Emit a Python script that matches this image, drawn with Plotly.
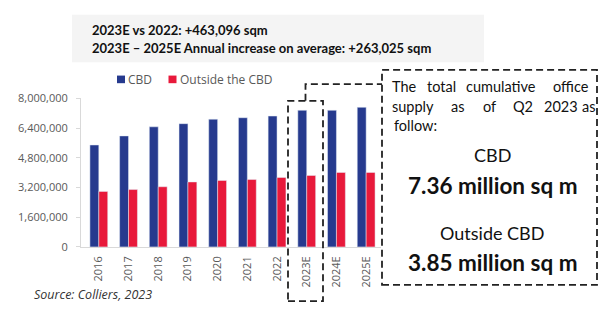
import plotly.graph_objects as go

years = ["2016", "2017", "2018", "2019", "2020", "2021", "2022", "2023E", "2024E", "2025E"]
cbd = [5490000, 5980000, 6470000, 6640000, 6880000, 6960000, 7050000, 7360000, 7360000, 7520000]
outside = [2990000, 3090000, 3240000, 3500000, 3580000, 3630000, 3740000, 3850000, 4010000, 4010000]
y_ticks = [0, 1600000, 3200000, 4800000, 6400000, 8000000]
y_tick_labels = ["0", "1,600,000", "3,200,000", "4,800,000", "6,400,000", "8,000,000"]
series_names = ["CBD", "Outside the CBD"]

W, H = 598, 311
def px(x):
    return x / W
def py(y):
    return 1 - y / H

BLUE = "#263a8e"
RED = "#e8193b"
GRAY_TXT = "#595959"

fig = go.Figure()
fig.add_trace(go.Bar(x=years, y=cbd, name=series_names[0], marker_color=BLUE, showlegend=False))
fig.add_trace(go.Bar(x=years, y=outside, name=series_names[1], marker_color=RED, showlegend=False))

fig.update_layout(
    width=W, height=H,
    margin=dict(l=0, r=0, t=0, b=0, pad=0),
    paper_bgcolor="white", plot_bgcolor="white",
    barmode="group", bargap=0.4, bargroupgap=0,
    font=dict(family="Open Sans", color=GRAY_TXT),
    xaxis=dict(domain=[px(81), px(381)], range=[-0.6, 9.5], type="category",
               tickangle=-90, tickfont=dict(size=11, color=GRAY_TXT),
               showline=True, linecolor="#d9d9d9", linewidth=1, ticks="",
               ticklabelstandoff=4,
               showgrid=False, anchor="y"),
    yaxis=dict(domain=[py(251), py(95)], range=[0, 8000000],
               tickvals=y_ticks, ticktext=y_tick_labels,
               tickfont=dict(size=11, color=GRAY_TXT),
               showline=True, linecolor="#d9d9d9", linewidth=1,
               ticks="outside", ticklen=4, tickcolor="#d9d9d9",
               ticklabelstandoff=6,
               showgrid=False, zeroline=False),
)

shapes = []
# header box
shapes.append(dict(type="rect", xref="paper", yref="paper", x0=px(72), x1=px(484), y0=py(57), y1=py(7),
                   fillcolor="#f4f4f4", line=dict(width=0), layer="below"))
# legend swatches
shapes.append(dict(type="rect", xref="paper", yref="paper", x0=px(117), x1=px(125), y0=py(79), y1=py(71),
                   fillcolor=BLUE, line=dict(width=0)))
shapes.append(dict(type="rect", xref="paper", yref="paper", x0=px(168.5), x1=px(176.5), y0=py(79), y1=py(71),
                   fillcolor=RED, line=dict(width=0)))
dash = dict(color="#222222", width=1.8, dash="7px,4px")
# small dashed box around 2023E
shapes.append(dict(type="rect", xref="paper", yref="paper", x0=px(288), x1=px(323), y0=py(308), y1=py(97.5),
                   line=dash))
# connector
shapes.append(dict(type="path", xref="paper", yref="paper",
                   path=f"M {px(305.5)},{py(97.5)} L {px(305.5)},{py(80)} L {px(382)},{py(80)}",
                   line=dash))
# big dashed box
shapes.append(dict(type="rect", xref="paper", yref="paper", x0=px(382), x1=px(597), y0=py(291), y1=py(65),
                   line=dash))
fig.update_layout(shapes=shapes)

def A(text, x, y, font, xanchor="left"):
    return dict(text=text, x=px(x), y=py(y), xref="paper", yref="paper", xanchor=xanchor,
                yanchor="middle", showarrow=False, font=font)

hdr_font = dict(family="Lato", size=13, color="#111111")
leg_font = dict(family="Open Sans", size=12, color=GRAY_TXT)
ann = [
    A("<b>2023E vs 2022: +463,096 sqm</b>", 90, 23, hdr_font),
    A("<b>2023E – 2025E Annual increase on average: +263,025 sqm</b>", 90, 42, hdr_font),
    A("<i>Source: Colliers, 2023</i>", 32, 301.5, dict(family="Open Sans", size=12.5, color="#333333")),
    A(series_names[0], 126, 75, leg_font),
    A(series_names[1], 177.5, 75, leg_font),
]

box_font = dict(family="Lato", size=14.5, color="#111111")
words = [("The", 404.5, 83), ("total", 441.5, 83), ("cumulative", 501, 83), ("office", 571, 83),
         ("supply", 413, 104), ("as", 457.5, 104), ("of", 489.5, 104), ("Q2", 523, 104),
         ("2023", 560.5, 104), ("as", 589, 104)]
for t, xx, yy in words:
    ann.append(A(t, xx, yy, box_font, xanchor="center"))
ann.append(A("follow:", 392, 123, box_font))

center = [("CBD", 154, 18, False), ("7.36 million sq m", 186, 22.5, True),
          ("Outside CBD", 236, 18, False), ("3.85 million sq m", 267, 22.5, True)]
for t, yy, sz, b in center:
    ann.append(A(f"<b>{t}</b>" if b else t, 492, yy, dict(family="Lato", size=sz, color="#111111"),
                 xanchor="center"))
fig.update_layout(annotations=ann)

fig.write_html("out.html", config={"displayModeBar": False},
               post_script="document.body.style.margin='0';document.body.style.overflow='hidden';")
